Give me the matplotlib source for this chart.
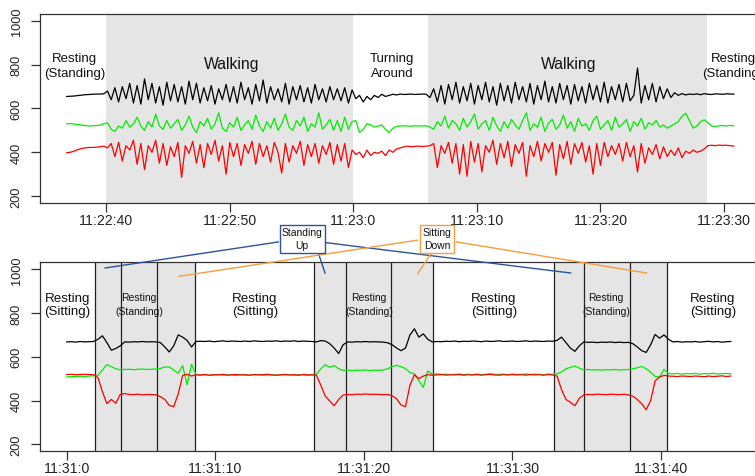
import numpy as np
import matplotlib.pyplot as plt

plt.rcParams['font.family'] = ['Liberation Sans', 'DejaVu Sans']

# ---- walking trial: seconds after 11:22:00, one sample every 0.3 s ----
walk_t0 = 36.8
walk_dt = 0.3
walk_black = [
    655, 656, 657, 659, 661, 663, 664, 665, 666, 666,
    667, 680, 640, 695, 630, 700, 645, 715, 625, 705,
    620, 735, 640, 715, 625, 700, 615, 720, 635, 710,
    630, 700, 620, 725, 640, 715, 625, 695, 635, 705,
    620, 690, 640, 710, 630, 700, 625, 720, 640, 695,
    620, 710, 635, 730, 625, 700, 640, 690, 630, 715,
    620, 700, 640, 705, 630, 695, 625, 710, 640, 690,
    630, 700, 640, 690, 635, 695, 625, 685, 645, 660,
    630, 655, 640, 660, 650, 665, 655, 660, 665, 662,
    666, 664, 665, 666, 664, 665, 666, 665, 650, 690,
    630, 705, 620, 710, 640, 720, 625, 700, 635, 715,
    620, 705, 640, 720, 630, 700, 615, 715, 635, 705,
    625, 720, 640, 700, 630, 715, 620, 705, 640, 725,
    630, 700, 625, 715, 640, 705, 620, 710, 635, 700,
    625, 715, 640, 705, 630, 720, 625, 700, 640, 710,
    630, 715, 635, 660, 785, 625, 705, 640, 715, 630,
    700, 645, 690, 650, 672, 660, 668, 662, 666, 664,
    667, 663, 668, 665, 664, 667, 666, 665, 667, 666,
    666,
]
walk_green = [
    530, 531, 529, 527, 524, 522, 520, 521, 522, 524,
    530, 535, 505, 495, 520, 510, 545, 515, 530, 560,
    520, 500, 540, 515, 575, 520, 505, 545, 510, 530,
    550, 500, 525, 565, 515, 490, 540, 520, 555, 505,
    530, 580, 510, 495, 535, 515, 560, 500, 525, 545,
    505, 570, 520, 495, 540, 510, 555, 500, 530, 575,
    515, 500, 545, 520, 560, 495, 530, 515, 580, 505,
    525, 550, 500, 545, 495, 560, 505, 540, 545, 490,
    505, 530, 525, 515, 520, 525, 505, 490, 510, 518,
    520, 521, 520, 519, 521, 520, 520, 521, 515, 505,
    540, 520, 565, 510, 545, 530, 500, 555, 515, 540,
    575, 505, 530, 545, 500, 560, 520, 495, 540, 510,
    550, 525, 505, 545, 580, 500, 530, 515, 560, 495,
    535, 550, 505, 525, 570, 510, 540, 495, 555, 520,
    530, 500, 545, 565, 505, 525, 545, 500, 560, 515,
    530, 550, 495, 540, 520, 555, 505, 535, 525, 545,
    515, 525, 510, 520, 530, 540, 565, 578, 545, 510,
    520, 540, 548, 535, 520, 518, 521, 522, 520, 523,
    521,
]
walk_red = [
    398, 400, 405, 412, 417, 420, 422, 422, 423, 425,
    428, 420, 440, 380, 445, 360, 430, 410, 455, 345,
    440, 320, 430, 400, 455, 350, 440, 340, 425, 380,
    445, 285, 430, 395, 450, 350, 435, 330, 440, 390,
    455, 360, 430, 300, 445, 380, 440, 340, 435, 395,
    450, 345, 440, 380, 430, 355, 445, 400, 305, 440,
    355, 430, 395, 450, 340, 435, 380, 440, 350, 430,
    390, 445, 345, 435, 360, 440, 330, 410, 390, 400,
    375, 410, 385, 400, 395, 405, 385, 410, 400, 415,
    420, 425, 428, 425, 427, 428, 426, 428, 430, 440,
    330, 430, 395, 445, 350, 440, 300, 435, 290, 450,
    355, 440, 310, 430, 400, 455, 345, 440, 375, 450,
    335, 435, 395, 445, 290, 430, 380, 450, 360, 440,
    400, 445, 295, 435, 370, 450, 345, 440, 395, 445,
    355, 430, 300, 440, 340, 445, 380, 430, 390, 440,
    360, 445, 380, 430, 310, 440, 350, 420, 390, 435,
    370, 425, 380, 410, 385, 420, 375, 405, 395, 410,
    400, 405, 415, 430, 432, 430, 433, 431, 432, 430,
    428,
]
walk_shade = [(40.0, 60.0), (66.04, 88.62)]
walk_labels = ["Resting\n(Standing)", "Walking", "Turning\nAround", "Walking", "Resting\n(Standing)"]
walk_label_t = [37.45, 50.18, 63.13, 77.4, 90.73]
walk_label_v = [797, 804, 797, 804, 797]
walk_label_size = [9.5, 11.3, 9.5, 11.3, 9.5]
walk_label_ls = [1.28, 1.0, 1.42, 1.0, 1.28]

# ---- sit/stand trial: seconds after 11:31:00, one sample every 0.3 s ----
sit_t0 = 0.0
sit_dt = 0.3
sit_black = [
    668, 669, 667, 670, 668, 669, 670, 680, 696, 665,
    630, 638, 650, 668, 667, 669, 668, 670, 668, 669,
    668, 665, 645, 622, 650, 700, 690, 675, 645, 670,
    671, 670, 672, 669, 671, 673, 670, 672, 671, 670,
    672, 670, 673, 671, 670, 672, 671, 673, 670, 672,
    671, 673, 670, 672, 671, 670, 668, 674, 672, 660,
    640, 615, 655, 668, 667, 669, 668, 670, 668, 669,
    668, 667, 664, 655, 640, 628, 640, 700, 728, 690,
    705, 680, 668, 670, 669, 671, 670, 672, 669, 671,
    670, 672, 671, 669, 672, 670, 671, 673, 670, 671,
    672, 670, 671, 673, 670, 672, 671, 670, 672, 671,
    675, 690, 665, 640, 625, 650, 668, 666, 667, 665,
    667, 666, 668, 665, 667, 665, 666, 660, 645, 628,
    620, 655, 702, 685, 700, 680, 668, 670, 667, 669,
    668, 670, 667, 669, 671, 668, 670, 667, 669, 670,
]
sit_green = [
    508, 509, 510, 511, 510, 512, 513, 515, 540, 564,
    555, 545, 540, 542, 543, 541, 543, 544, 542, 543,
    544, 547, 553, 554, 540, 525, 560, 472, 566, 518,
    516, 518, 515, 517, 519, 516, 518, 517, 515, 518,
    517, 516, 518, 519, 516, 517, 518, 516, 517, 519,
    518, 516, 517, 518, 516, 517, 520, 545, 564, 552,
    560, 545, 538, 540, 537, 539, 538, 540, 537, 539,
    538, 540, 545, 555, 561, 555, 546, 528, 522, 490,
    460, 535, 520, 522, 519, 521, 518, 520, 521, 519,
    520, 518, 521, 519, 520, 522, 519, 520, 521, 518,
    521, 519, 520, 522, 519, 521, 520, 518, 521, 520,
    522, 530, 545, 552, 558, 548, 540, 542, 540, 541,
    539, 541, 540, 542, 540, 541, 542, 545, 550, 556,
    545, 530, 510, 508, 543, 523, 522, 524, 521, 523,
    522, 524, 521, 523, 522, 525, 521, 523, 524, 522,
]
sit_red = [
    519, 520, 518, 519, 520, 519, 518, 505, 440, 386,
    405, 388, 428, 432, 428, 427, 429, 426, 428, 427,
    427, 418, 405, 378, 372, 430, 515, 520, 512, 518,
    517, 519, 516, 518, 517, 520, 516, 518, 519, 517,
    518, 516, 519, 517, 518, 520, 517, 516, 518, 519,
    517, 518, 516, 519, 517, 518, 516, 470, 420, 398,
    376, 405, 425, 428, 427, 429, 428, 430, 428, 429,
    428, 427, 428, 422, 408, 380, 372, 470, 518, 500,
    512, 518, 516, 517, 519, 516, 518, 517, 519, 516,
    518, 517, 519, 516, 518, 520, 517, 516, 518, 517,
    519, 517, 518, 516, 519, 517, 518, 516, 519, 517,
    512, 450, 405, 392, 376, 410, 426, 428, 427, 429,
    428, 427, 429, 428, 427, 429, 426, 420, 405, 385,
    358, 400, 490, 508, 515, 512, 511, 510, 512, 511,
    510, 512, 511, 509, 512, 510, 511, 513, 510, 512,
]
sit_bounds = [1.88, 3.63, 6.10, 8.65, 16.62, 18.78, 21.82, 24.67, 32.77, 34.83, 37.89, 40.42]
sit_labels = ["Resting\n(Sitting)", "Resting\n(Standing)", "Resting\n(Sitting)", "Resting\n(Standing)",
              "Resting\n(Sitting)", "Resting\n(Standing)", "Resting\n(Sitting)"]
sit_label_t = [0.05, 4.87, 12.67, 20.35, 28.76, 36.3, 43.5]
sit_label_big = [True, False, True, False, True, False, True]

SHADE = '#e5e5e5'
LINE_COLORS = ['black', '#00ee00', '#ff0000']


def clock_fmt(base_h, base_m):
    def fmt(s, pos=None):
        total = base_h * 3600 + base_m * 60 + int(round(s))
        return f"{total // 3600}:{(total // 60) % 60}:{total % 60}"
    return fmt


def style_axes(ax, xticks, fmt, xlim):
    ax.set_xlim(*xlim)
    ax.set_ylim(168, 1032)
    ax.set_yticks([200, 400, 600, 800, 1000])
    ax.set_xticks(xticks)
    ax.set_xticklabels([fmt(t) for t in xticks])
    for lab in ax.get_yticklabels():
        lab.set_rotation(90)
        lab.set_va('center')
    ax.tick_params(axis='y', length=6.5, width=0.9, labelsize=9.2, pad=6, colors='#333333', labelcolor='#222222')
    ax.tick_params(axis='x', length=6.5, width=0.9, labelsize=10.2, pad=0.8, colors='#333333', labelcolor='#222222')
    for sp in ax.spines.values():
        sp.set_color('#333333')
        sp.set_linewidth(0.9)


fig = plt.figure(figsize=(7.55, 4.77), dpi=100)
ax1 = fig.add_axes([0.053, 0.5723, 1.0074 - 0.053, 0.9686 - 0.5723])
ax2 = fig.add_axes([0.053, 0.0518, 1.0074 - 0.053, 0.448 - 0.0518])

# top: walking / turning
t_walk = walk_t0 + walk_dt * np.arange(len(walk_black))
for a, b in walk_shade:
    ax1.axvspan(a, b, color=SHADE, lw=0, zorder=0)
for series, c in zip([walk_black, walk_green, walk_red], LINE_COLORS):
    ax1.plot(t_walk, series, color=c, lw=0.9, zorder=2)
for txt, t, v, fs, ls in zip(walk_labels, walk_label_t, walk_label_v, walk_label_size, walk_label_ls):
    ax1.text(t, v, txt, ha='center', va='center', fontsize=fs, linespacing=ls,
             color='#111111', clip_on=False, zorder=3)
style_axes(ax1, [40, 50, 60, 70, 80, 90], clock_fmt(11, 22), (34.64, 92.96))

# bottom: sit / stand transitions
t_sit = sit_t0 + sit_dt * np.arange(len(sit_black))
for k in range(0, len(sit_bounds), 4):
    ax2.axvspan(sit_bounds[k], sit_bounds[k + 3], color=SHADE, lw=0, zorder=0)
for b in sit_bounds:
    ax2.axvline(b, color='#222222', lw=0.9, zorder=1)
for series, c in zip([sit_black, sit_green, sit_red], LINE_COLORS):
    ax2.plot(t_sit, series, color=c, lw=0.9, zorder=2)
for txt, t, big in zip(sit_labels, sit_label_t, sit_label_big):
    ax2.text(t, 840, txt, ha='center', va='center', fontsize=9.6 if big else 7.5,
             linespacing=1.12 if big else 1.5, color='#111111', clip_on=False, zorder=3)
style_axes(ax2, [0, 10, 20, 30, 40], clock_fmt(11, 31), (-1.8, 46.7))

# call-out boxes with leader lines into the shaded transitions
callouts = [
    ("Standing\nUp", '#2a5599', (15.84, 1139),
     [((14.24, 1125), (2.58, 1006)), ((16.93, 1076), (17.38, 983)), ((17.43, 1122), (33.92, 983))]),
    ("Sitting\nDown", '#f59e3a', (24.92, 1139),
     [((23.59, 1133), (7.56, 968)), ((24.56, 1076), (23.62, 980)), ((26.24, 1125), (39.03, 983))]),
]
for txt, col, (bx, by), leaders in callouts:
    for (x0, y0), (x1, y1) in leaders:
        ax2.plot([x0, x1], [y0, y1], color=col, lw=1.0, clip_on=False, zorder=6)
    ax2.text(bx, by, txt, ha='center', va='center', fontsize=7.5, linespacing=1.4,
             color='#111111', clip_on=False, zorder=7,
             bbox=dict(boxstyle='square,pad=0.2', fc='white', ec=col, lw=1.0))

fig.savefig('out.png', dpi=100)
